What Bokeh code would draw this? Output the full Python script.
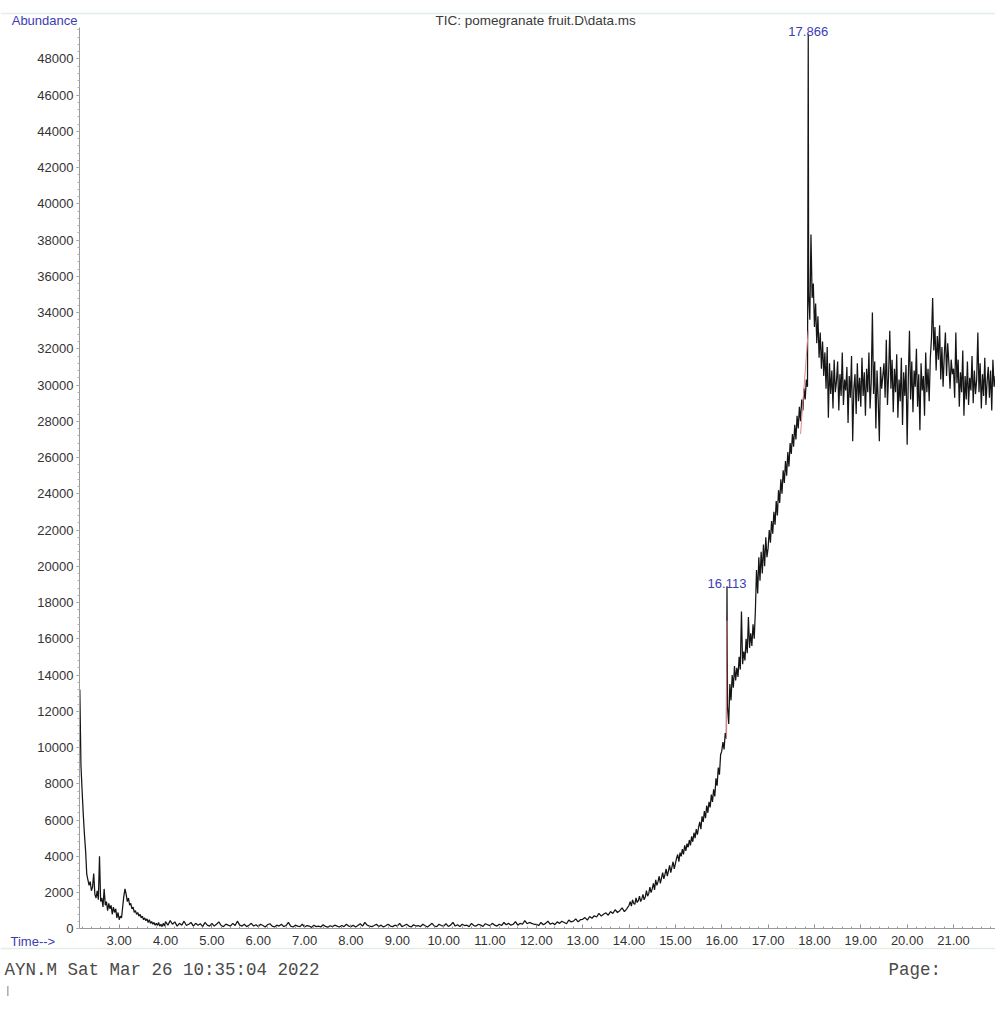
import numpy as np
from bokeh.plotting import figure
from bokeh.models import Label, FixedTicker, NumeralTickFormatter, Range1d, Span
from bokeh.embed import file_html
from bokeh.resources import INLINE

# ---------------- data ----------------
# segment 1: 2.150 .. 3.975 min, every 0.025 min
seg1_start = 2.150
seg1_step = 0.025
seg1_abund = [
    13200, 9000, 7600, 6300, 5200, 4300, 3000, 2700, 2400, 2600,
    2100, 2300, 3050, 1900, 1700, 2100, 1600, 4000, 1500, 1700,
    1200, 2200, 1300, 1500, 1000, 1400, 1100, 1300, 800, 1200,
    900, 1100, 600, 900, 500, 700, 600, 1200, 1800, 2200,
    1900, 1500, 1700, 1300, 1400, 1100, 1200, 900, 1000, 800,
    900, 700, 800, 600, 700, 500, 600, 450, 550, 350,
    500, 300, 400, 250, 350, 200, 300, 180, 350, 150,
    250, 120, 300, 150,
]

# segment 2: 4.00 .. 13.95 min, every 0.05 min
seg2_start = 4.00
seg2_step = 0.05
seg2_abund = [
    400, 200, 450, 250, 380, 150, 300, 200, 420, 180,
    250, 350, 150, 300, 200, 280, 120, 350, 200, 150,
    300, 150, 250, 380, 180, 120, 260, 200, 150, 300,
    180, 420, 200, 150, 250, 120, 200, 300, 150, 220,
    120, 250, 180, 100, 220, 280, 150, 100, 200, 150,
    250, 120, 180, 350, 150, 100, 200, 150, 120, 250,
    100, 180, 150, 80, 200, 120, 150, 100, 220, 130,
    90, 170, 120, 200, 150, 100, 180, 120, 250, 150,
    120, 200, 100, 180, 280, 150, 350, 200, 150, 120,
    180, 250, 130, 200, 100, 170, 250, 150, 120, 200,
    150, 300, 120, 180, 250, 150, 100, 220, 150, 180,
    120, 250, 170, 100, 200, 300, 150, 120, 250, 180,
    150, 280, 130, 200, 350, 150, 220, 120, 250, 180,
    200, 120, 300, 180, 150, 250, 200, 130, 280, 220,
    180, 300, 200, 150, 250, 180, 350, 220, 300, 200,
    250, 400, 200, 300, 250, 450, 280, 350, 300, 250,
    250, 180, 350, 220, 300, 420, 250, 320, 230, 380,
    300, 420, 350, 280, 480, 380, 420, 550, 380, 500,
    520, 620, 480, 680, 580, 720, 650, 850, 700, 800,
    880, 750, 950, 850, 1050, 900, 1000, 1150, 950, 1100,
]

# segment 3: 14.000 .. 21.925 min, every 0.025 min
seg3_start = 14.000
seg3_step = 0.025
seg3_abund = [
    1300, 1500, 1250, 1600, 1400, 1350, 1700, 1450, 1550, 1800, 1500, 1650, 1900, 1600, 1750, 2100, 1800, 1950, 2300, 2000,
    2200, 2500, 2150, 2700, 2400, 2600, 2900, 2500, 2800, 3100, 2750, 3000, 3300, 2900, 3200, 3500, 3100, 3400, 3700, 3300,
    3600, 3900, 4100, 3700, 4200, 4000, 4400, 4100, 4600, 4300, 4700, 4500, 4900, 4600, 5100, 4800, 5300, 5000, 5500, 5200,
    5600, 5900, 5500, 6200, 5900, 6500, 6100, 6800, 6400, 7000, 6700, 7400, 7000, 7700, 7300, 8300, 7900, 8900, 8500, 9600,
    9800, 10300, 9900, 10800, 10500, 12300, 11300, 13500, 12600, 14000, 13300, 14500, 13700, 14400, 13900, 15000, 14300, 17500, 14600, 15300,
    14800, 16000, 15200, 17200, 15500, 16300, 15600, 16800, 16000, 17500, 19800, 18500, 20500, 19200, 20800, 19600, 21200, 20000, 21600, 20500,
    21000, 22000, 21300, 22500, 21800, 23000, 22300, 23600, 22800, 24200, 23500, 24800, 24000, 25300, 24600, 25800, 25000, 26300, 25500, 26800,
    26200, 27300, 26600, 27800, 27000, 28300, 27600, 28800, 28000, 29200, 28600, 29800, 29200, 30300, 29900, 35000, 33600, 38300, 34800, 35600,
    33200, 34500, 32300, 33800, 31500, 32900, 30900, 32400, 30500, 31800, 29800, 32100, 28200, 31200, 29500, 30800, 28700, 31400, 29600, 30200,
    31300, 28600, 30600, 29400, 31800, 28900, 30300, 29700, 31000, 27900, 30500, 29300, 31600, 26900, 29800, 30600, 28400, 31200, 29100, 30400,
    28800, 31500, 29400, 30700, 28300, 30900, 29600, 31800, 28700, 30200, 34000, 29500, 31300, 27600, 30800, 29200, 26900, 31000, 29800, 30500,
    31200, 29300, 32500, 28900, 30600, 33000, 29800, 31400, 28500, 30900, 29600, 31700, 28200, 30300, 29100, 31500, 27800, 30700, 29400, 31100,
    26700, 30400, 33000, 29200, 31300, 28500, 30800, 29900, 32000, 28800, 30600, 27500, 31200, 29700, 30500, 28300, 31800, 29600, 30900, 29100,
    31500, 32600, 34800, 31900, 33200, 30800, 32700, 31400, 33300, 30300, 32100, 29900, 31600, 32900, 30500, 32300, 31200, 29800, 31400, 30600,
    30900, 29300, 32900, 30100, 31400, 28800, 30700, 29600, 31900, 28300, 30500, 29200, 31300, 28900, 30400, 29700, 31600, 29000, 30800, 29500,
    30300, 32900, 29600, 31200, 28700, 30600, 29400, 31500, 28900, 30200, 31000, 29300, 30800, 28600, 31400, 29900, 30500, 29200,
]

# integrated peaks (apex time, apex abundance)
peak_times = [16.113, 17.866]
peak_heights = [18900, 49350]
peak_labels = ["16.113", "17.866"]

# integration marker segments (red)
mark1_t = [16.100, 16.113]
mark1_y = [10500, 17000]
mark2_t = [17.700, 17.866]
mark2_y = [27300, 33000]

x_ticks = [3, 4, 5, 6, 7, 8, 9, 10, 11, 12, 13, 14, 15, 16, 17, 18, 19, 20, 21]
y_ticks = list(range(0, 48001, 2000))

title_text = "TIC: pomegranate fruit.D\\data.ms"
footer_text = "AYN.M Sat Mar 26 10:35:04 2022"

# ---------------- assemble trace ----------------
def seg_times(start, step, vals):
    return start + step * np.arange(len(vals))

t = np.concatenate([
    seg_times(seg1_start, seg1_step, seg1_abund),
    seg_times(seg2_start, seg2_step, seg2_abund),
    seg_times(seg3_start, seg3_step, seg3_abund),
    np.array(peak_times),
])
a = np.concatenate([
    np.array(seg1_abund, dtype=float),
    np.array(seg2_abund, dtype=float),
    np.array(seg3_abund, dtype=float),
    np.array(peak_heights, dtype=float),
])
order = np.argsort(t, kind="stable")
t = t[order]
a = a[order]

# ---------------- figure ----------------
# the frame covers the whole page; the axes sit at fixed data locations
X_LEFT, X_RIGHT = 0.439, 21.906       # time at page left / right edge
Y_BOTTOM, Y_TOP = -4839, 51215        # abundance at page bottom / top edge
AX_X0 = 2.1435                        # time where the abundance axis stands
AX_YTOP = 49710                       # top of the abundance axis

p = figure(width=995, height=1016, output_backend="svg", toolbar_location=None,
           x_range=Range1d(X_LEFT, X_RIGHT), y_range=Range1d(Y_BOTTOM, Y_TOP),
           min_border_left=0, min_border_right=0, min_border_top=0, min_border_bottom=0)
p.title.visible = False
p.outline_line_color = None
p.xgrid.visible = False
p.ygrid.visible = False
p.background_fill_color = "white"
p.border_fill_color = "white"

SANS = "Liberation Sans"
MONO = "Liberation Mono"
BLUE = "#3c3cb4"

# faint scan lines of the printout
p.add_layout(Span(location=50498, dimension="width", line_color="#e3efe3", line_width=1.5))
p.add_layout(Span(location=-1085, dimension="width", line_color="#e3efe3", line_width=1.5))

p.line(t, a, line_color="#151515", line_width=1.25)
p.line(mark1_t, mark1_y, line_color="#e08a8a", line_width=1.0)
p.line(mark2_t, mark2_y, line_color="#e08a8a", line_width=1.0)

# axes
xa = p.xaxis[0]
xa.fixed_location = 0
xa.bounds = (AX_X0, X_RIGHT)
xa.ticker = FixedTicker(ticks=x_ticks, minor_ticks=list(np.round(np.arange(2.2, 21.95, 0.2), 2)))
xa.formatter = NumeralTickFormatter(format="0.00")
xa.axis_line_color = "#9a9a9a"
xa.major_tick_line_color = "#8a8a8a"
xa.minor_tick_line_color = "#9a9a9a"
xa.major_tick_in = 4
xa.major_tick_out = 0
xa.minor_tick_in = 2
xa.minor_tick_out = 0
xa.major_label_text_font = SANS
xa.major_label_text_font_size = "13px"
xa.major_label_text_color = "#333333"
xa.major_label_standoff = 7

ya = p.yaxis[0]
ya.fixed_location = AX_X0
ya.bounds = (0, AX_YTOP)
ya.ticker = FixedTicker(ticks=y_ticks, minor_ticks=list(range(0, 49701, 400)))
ya.formatter = NumeralTickFormatter(format="0")
ya.axis_line_color = "#9a9a9a"
ya.major_tick_line_color = "#8a8a8a"
ya.minor_tick_line_color = "#b0b0b0"
ya.major_tick_in = 0
ya.major_tick_out = 3
ya.minor_tick_in = 0
ya.minor_tick_out = 2
ya.major_label_text_font = SANS
ya.major_label_text_font_size = "13px"
ya.major_label_text_color = "#333333"
ya.major_label_standoff = 3

def add_label(x, y, text, font=SANS, size="13px", color="#333333", align="left", baseline="middle"):
    p.add_layout(Label(x=x, y=y, text=text, text_font=font, text_font_size=size,
                       text_color=color, text_align=align, text_baseline=baseline))

add_label(2.100, 50113, "Abundance", color=BLUE, align="right")
add_label(9.824, 50113, title_text, size="13.5px", color="#3a3a3a")
for pt, ph, pl in zip(peak_times, peak_heights, peak_labels):
    add_label(pt, ph + 150, pl, color=BLUE, align="center")
add_label(0.655, -701, "Time-->", color=BLUE)
add_label(0.525, -2300, footer_text, font=MONO, size="17.5px", color="#4a4a4a")
add_label(19.598, -2300, "Page:", font=MONO, size="17.5px", color="#4a4a4a")
add_label(0.525, -3459, "|", font=MONO, size="11px", color="#777777")

open("out.html", "w").write(file_html(p, INLINE))
